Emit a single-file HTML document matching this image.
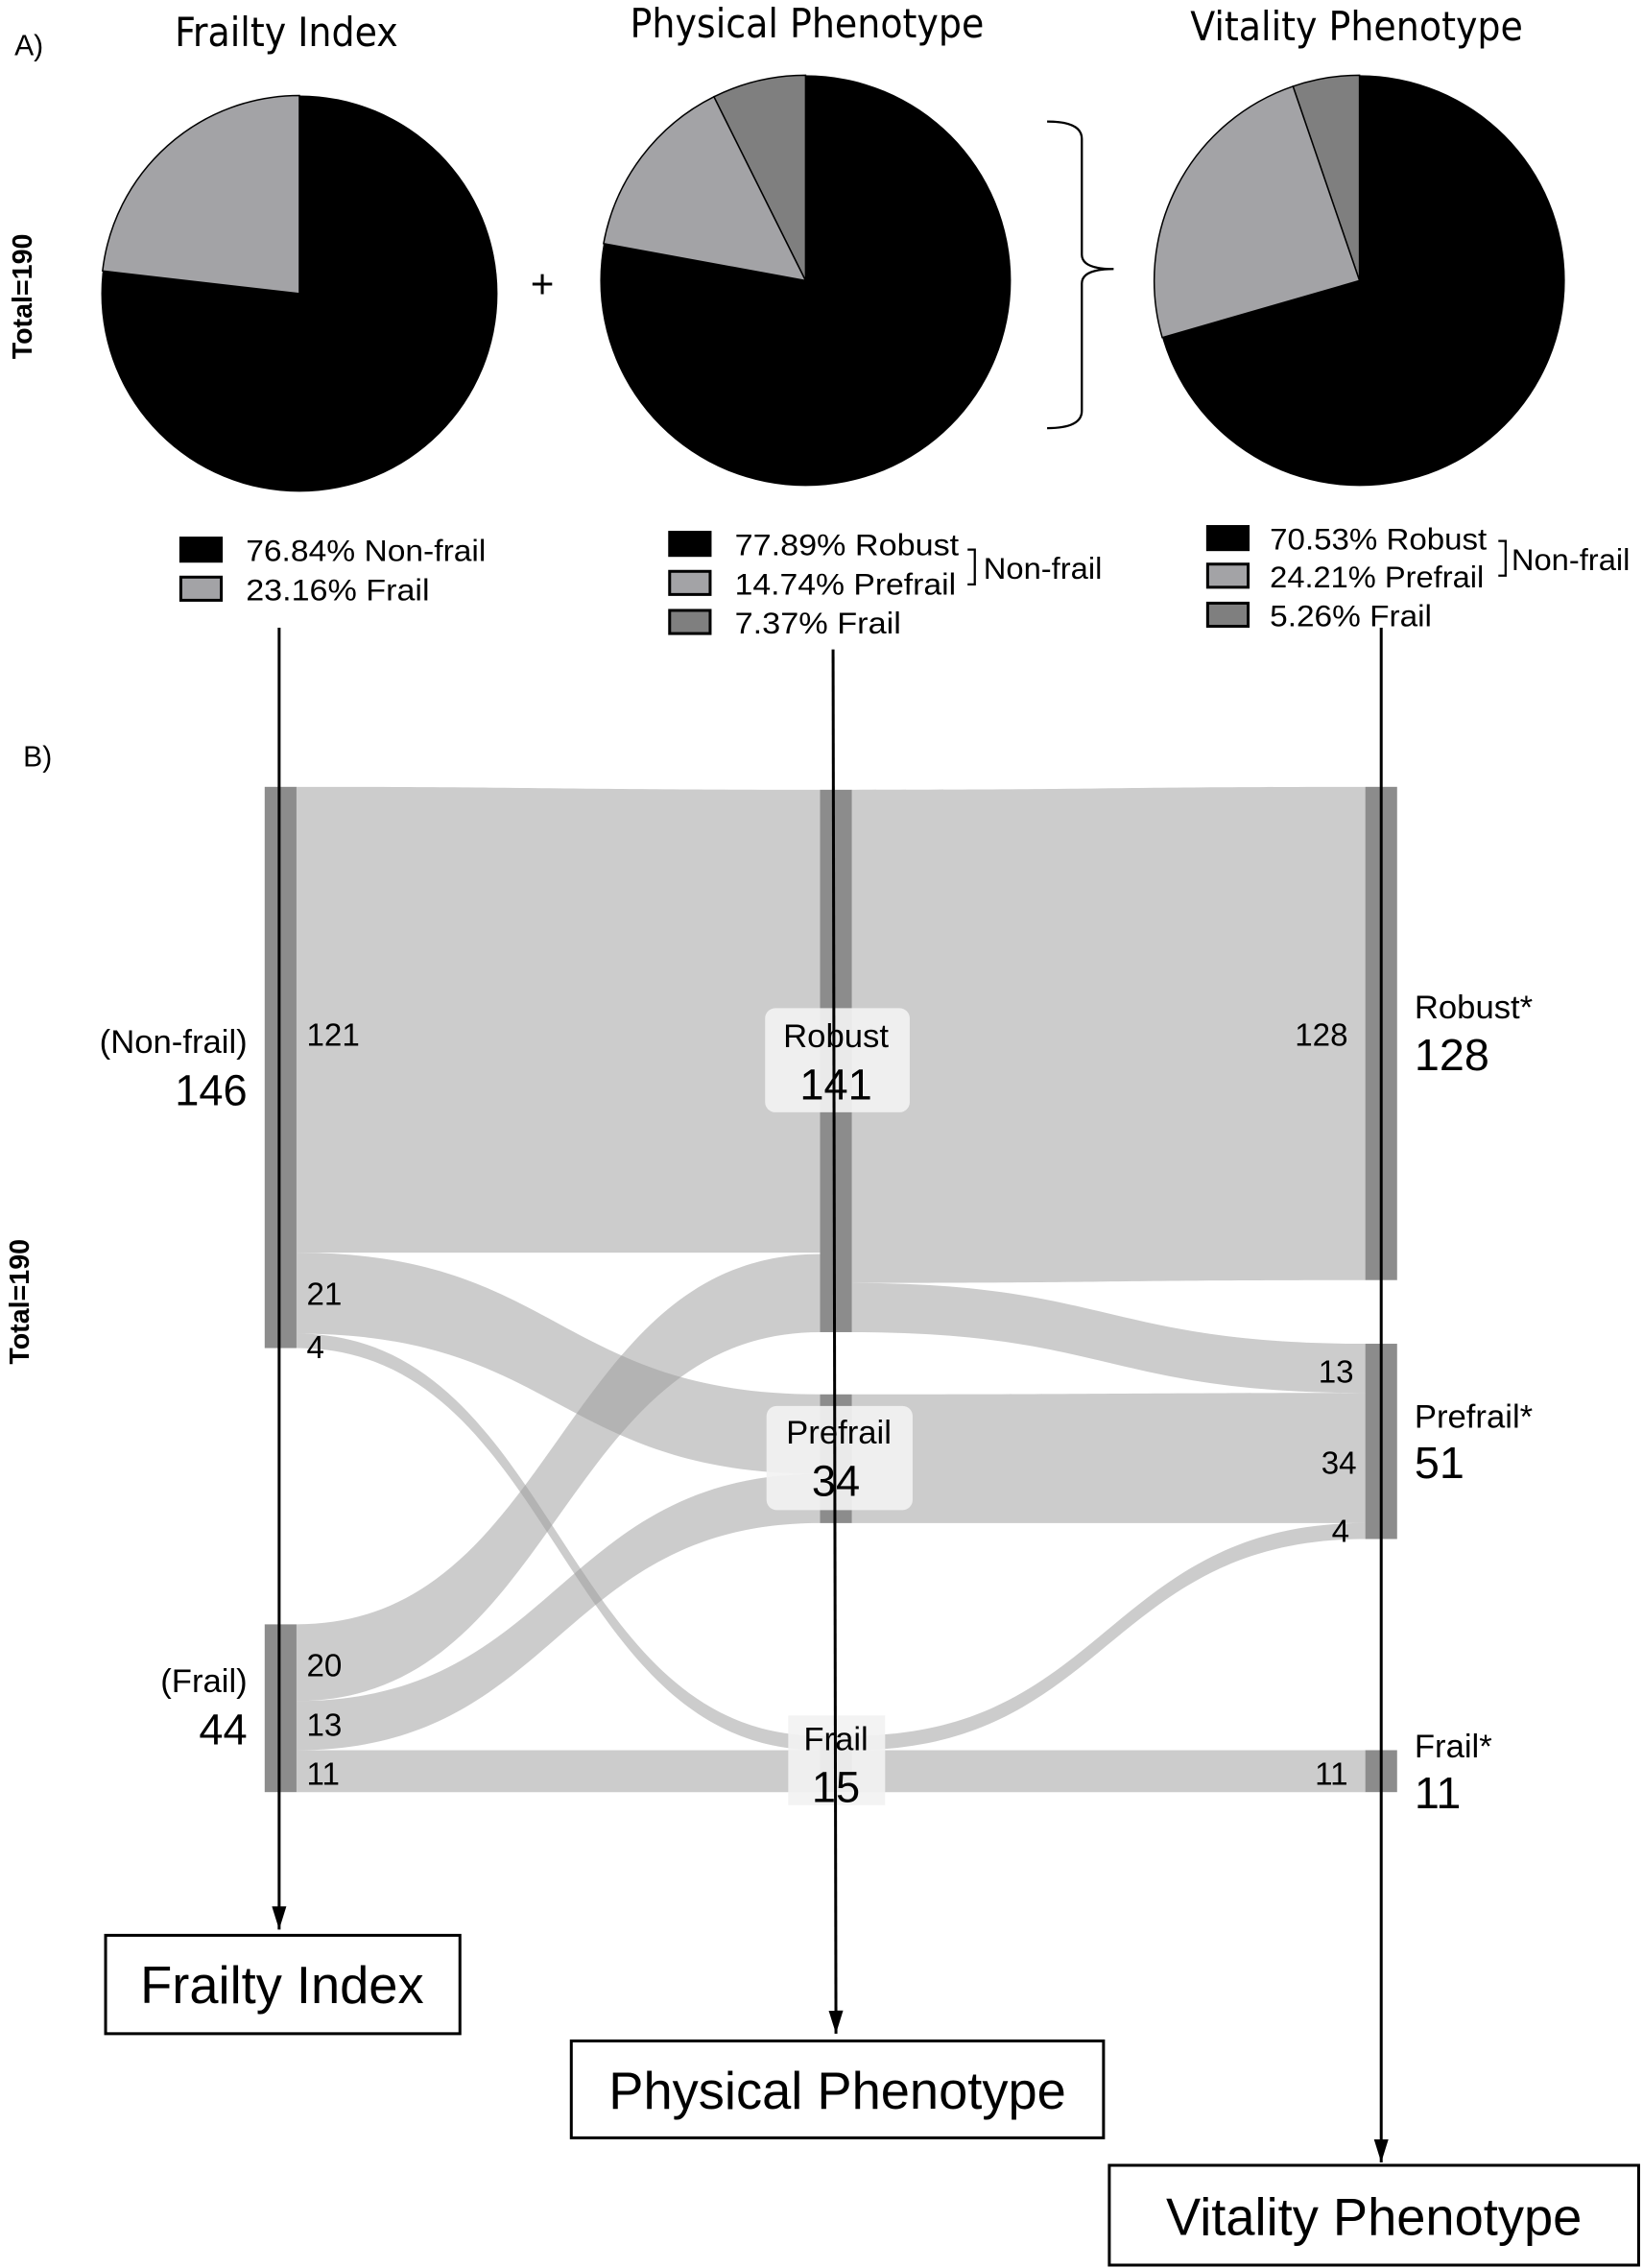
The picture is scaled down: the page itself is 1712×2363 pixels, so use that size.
<!DOCTYPE html>
<html><head><meta charset="utf-8"><style>
html,body{margin:0;padding:0;background:#fff}
svg{display:block}
text{font-family:"Liberation Sans",sans-serif;fill:#000}
.n{font-family:"DejaVu Sans Condensed","DejaVu Sans","Liberation Sans",sans-serif}
</style></head><body>
<svg width="1712" height="2363" viewBox="0 0 1136 1568" xmlns="http://www.w3.org/2000/svg">
<defs><marker id="ah" markerWidth="16" markerHeight="10" refX="16" refY="5" orient="auto" markerUnits="userSpaceOnUse" viewBox="0 0 16 10"><path d="M0 0 L16 5 L0 10 Z" fill="#000"/></marker></defs>
<!-- Titles -->
<text x="10" y="38" font-size="20">A)</text>
<text class="n" x="198" y="32" font-size="28" text-anchor="middle">Frailty Index</text>
<text class="n" x="558" y="26" font-size="28" text-anchor="middle">Physical Phenotype</text>
<text class="n" x="938" y="28" font-size="28" text-anchor="middle">Vitality Phenotype</text>
<text x="22" y="205" font-size="19" font-weight="bold" text-anchor="middle" transform="rotate(-90 22 205)">Total=190</text>
<!-- Pie 1 -->
<circle cx="207" cy="203" r="137" fill="#000"/>
<path d="M207 203 L207 66 A137 137 0 0 0 70.9 187.3 Z" fill="#a3a3a6" stroke="#000" stroke-width="1"/>
<text x="375" y="206" font-size="28" text-anchor="middle">+</text>
<!-- Pie 2 -->
<circle cx="557" cy="194" r="142" fill="#000"/>
<path d="M557 194 L557 52 A142 142 0 0 0 493.6 66.9 Z" fill="#7f7f7f" stroke="#000" stroke-width="1"/>
<path d="M557 194 L493.6 66.9 A142 142 0 0 0 417.3 168.4 Z" fill="#a3a3a6" stroke="#000" stroke-width="1"/>
<!-- brace -->
<path d="M724 84 Q748 84 748 96 L748 176 Q748 186 770 186 Q748 186 748 196 L748 284 Q748 296 724 296" fill="none" stroke="#000" stroke-width="1.5"/>
<!-- Pie 3 -->
<circle cx="940" cy="194" r="142" fill="#000"/>
<path d="M940 194 L940 52 A142 142 0 0 0 894 59.7 Z" fill="#7f7f7f" stroke="#000" stroke-width="1"/>
<path d="M940 194 L894 59.7 A142 142 0 0 0 803.6 233.4 Z" fill="#a3a3a6" stroke="#000" stroke-width="1"/>
<!-- legends -->
<g font-size="21">
<rect x="124" y="371" width="30" height="18" fill="#000"/><text x="170" y="388" textLength="166" lengthAdjust="spacingAndGlyphs">76.84%  Non-frail</text>
<rect x="125" y="399" width="28" height="16" fill="#a3a3a6" stroke="#000" stroke-width="2"/><text x="170" y="415" textLength="127" lengthAdjust="spacingAndGlyphs">23.16%  Frail</text>
<rect x="462" y="367" width="30" height="18" fill="#000"/><text x="508" y="384" textLength="155" lengthAdjust="spacingAndGlyphs">77.89%  Robust</text>
<rect x="463" y="395" width="28" height="16" fill="#a3a3a6" stroke="#000" stroke-width="2"/><text x="508" y="411" textLength="153" lengthAdjust="spacingAndGlyphs">14.74%  Prefrail</text>
<rect x="463" y="422" width="28" height="16" fill="#7f7f7f" stroke="#000" stroke-width="2"/><text x="508" y="438" textLength="115" lengthAdjust="spacingAndGlyphs">7.37%  Frail</text>
<path d="M669 380 L674 380 L674 404 L669 404" fill="none" stroke="#000" stroke-width="1.5"/>
<text x="680" y="400" textLength="82" lengthAdjust="spacingAndGlyphs">Non-frail</text>
<rect x="834" y="363" width="30" height="18" fill="#000"/><text x="878" y="380" textLength="150" lengthAdjust="spacingAndGlyphs">70.53%  Robust</text>
<rect x="835" y="390" width="28" height="16" fill="#a3a3a6" stroke="#000" stroke-width="2"/><text x="878" y="406" textLength="148" lengthAdjust="spacingAndGlyphs">24.21%  Prefrail</text>
<rect x="835" y="417" width="28" height="16" fill="#7f7f7f" stroke="#000" stroke-width="2"/><text x="878" y="433" textLength="112" lengthAdjust="spacingAndGlyphs">5.26%  Frail</text>
<path d="M1036 374 L1041 374 L1041 398 L1036 398" fill="none" stroke="#000" stroke-width="1.5"/>
<text x="1045" y="394" textLength="82" lengthAdjust="spacingAndGlyphs">Non-frail</text>
</g>
<text x="16" y="530" font-size="20">B)</text>
<text x="20" y="900" font-size="19" font-weight="bold" text-anchor="middle" transform="rotate(-90 20 900)">Total=190</text>
<!-- flows -->
<g fill="#999" fill-opacity="0.5">
<path d="M205 544 C386 544 386 546 567 546 L567 866 C386 866 386 866 205 866 Z"/>
<path d="M205 866 C386 866 386 964 567 964 L567 1019 C386 1019 386 922 205 922 Z"/>
<path d="M205 922 C386 922 386 1200 567 1200 L567 1210 C386 1210 386 932 205 932 Z"/>
<path d="M205 1123 C386 1123 386 867 567 867 L567 921 C386 921 386 1176 205 1176 Z"/>
<path d="M205 1176 C386 1176 386 1019 567 1019 L567 1053 C386 1053 386 1210 205 1210 Z"/>
<path d="M205 1210 L567 1210 L567 1239 L205 1239 Z"/>
<path d="M589 546 C766 546 766 544 944 544 L944 885 C766 885 766 887 589 887 Z"/>
<path d="M589 887 C766 887 766 929 944 929 L944 963 C766 963 766 921 589 921 Z"/>
<path d="M589 964 C766 964 766 963 944 963 L944 1053 C766 1053 766 1053 589 1053 Z"/>
<path d="M589 1200 C766 1200 766 1053 944 1053 L944 1064 C766 1064 766 1210 589 1210 Z"/>
<path d="M589 1210 L944 1210 L944 1239 L589 1239 Z"/>
</g>
<!-- nodes -->
<g fill="#8c8c8c">
<rect x="183" y="544" width="22" height="388"/>
<rect x="183" y="1123" width="22" height="116"/>
<rect x="567" y="546" width="22" height="375"/>
<rect x="567" y="964" width="22" height="89"/>
<rect x="567" y="1200" width="22" height="39"/>
<rect x="944" y="544" width="22" height="341"/>
<rect x="944" y="929" width="22" height="135"/>
<rect x="944" y="1210" width="22" height="29"/>
</g>
<!-- mid labels -->
<rect x="529" y="697" width="100" height="72" rx="7" fill="#f2f2f2" fill-opacity="0.92"/>
<rect x="530" y="972" width="101" height="72" rx="7" fill="#f2f2f2" fill-opacity="0.92"/>
<rect x="545" y="1186" width="67" height="62" fill="#f2f2f2" fill-opacity="0.92"/>
<g font-size="23" text-anchor="middle">
<text x="578" y="724">Robust</text><text x="578" y="760" font-size="30">141</text>
<text x="580" y="998">Prefrail</text><text x="578" y="1034" font-size="30">34</text>
<text x="578" y="1210">Frail</text><text x="578" y="1246" font-size="30">15</text>
</g>
<!-- left labels -->
<g font-size="23" text-anchor="end">
<text x="171" y="728">(Non-frail)</text><text x="171" y="764" font-size="30">146</text>
<text x="171" y="1170">(Frail)</text><text x="171" y="1206" font-size="30">44</text>
</g>
<g class="n" font-size="22">
<text x="212" y="723">121</text><text x="212" y="902">21</text><text x="212" y="939">4</text>
<text x="212" y="1159">20</text><text x="212" y="1200">13</text><text x="212" y="1234">11</text>
</g>
<g class="n" font-size="22" text-anchor="end">
<text x="932" y="723">128</text><text x="936" y="956">13</text><text x="938" y="1019">34</text><text x="933" y="1066">4</text><text x="932" y="1234">11</text>
</g>
<g font-size="23">
<text x="978" y="704">Robust*</text><text x="978" y="740" font-size="31">128</text>
<text x="978" y="987">Prefrail*</text><text x="978" y="1022" font-size="31">51</text>
<text x="978" y="1215">Frail*</text><text x="978" y="1250" font-size="31">11</text>
</g>
<!-- arrows -->
<g stroke="#000" stroke-width="2" fill="none">
<line x1="193" y1="434" x2="193" y2="1334" marker-end="url(#ah)"/>
<path d="M576 449 L578 1406" marker-end="url(#ah)"/>
<line x1="955" y1="434" x2="955" y2="1495" marker-end="url(#ah)"/>
</g>
<!-- boxes -->
<g fill="#fff" stroke="#000" stroke-width="2">
<rect x="73" y="1338" width="245" height="68"/>
<rect x="395" y="1411" width="368" height="67"/>
<rect x="767" y="1497" width="366" height="69"/>
</g>
<g class="n" font-size="36" text-anchor="middle">
<text x="195" y="1385">Frailty Index</text>
<text x="579" y="1458">Physical Phenotype</text>
<text x="950" y="1545">Vitality Phenotype</text>
</g>
</svg>
</body></html>
